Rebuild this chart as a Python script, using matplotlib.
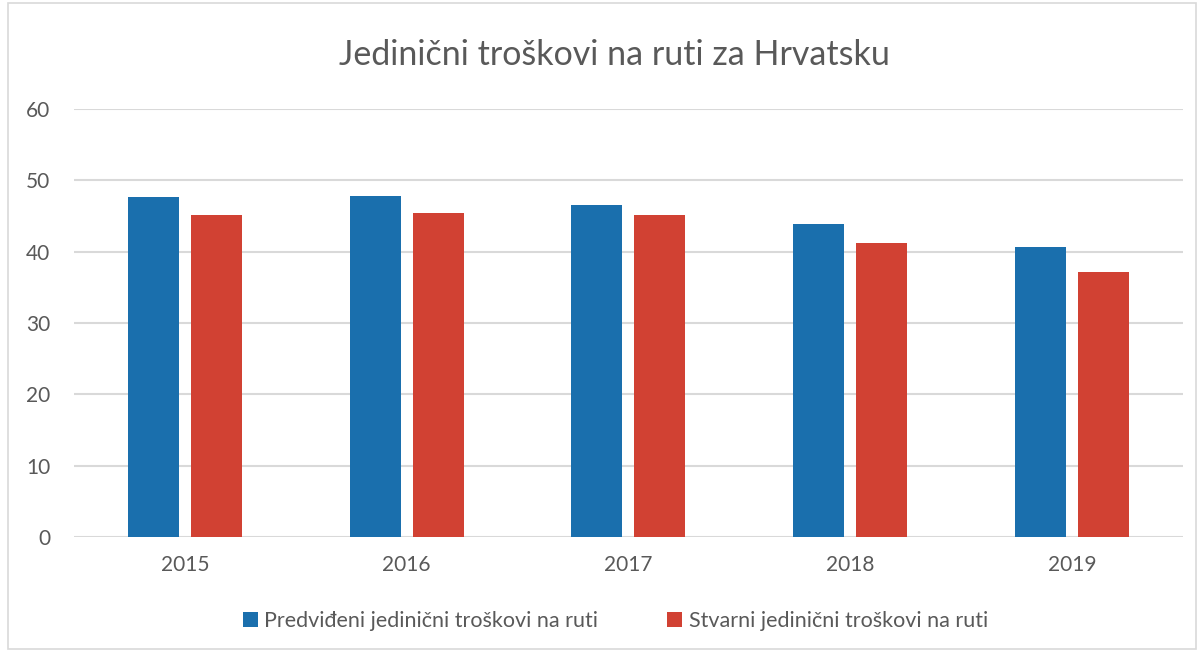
import matplotlib
matplotlib.use("Agg")
import matplotlib.pyplot as plt
import numpy as np
from matplotlib.patches import Rectangle

years = ["2015", "2016", "2017", "2018", "2019"]
predvideni = [47.6, 47.8, 46.6, 43.9, 40.7]  # planned unit costs
stvarni = [45.1, 45.4, 45.1, 41.2, 37.1]     # actual unit costs

blue = "#1a6fad"
red = "#d14133"
grey_text = "#595959"

plt.rcParams['font.family'] = ['Lato', 'DejaVu Sans']

fig = plt.figure(figsize=(12.02, 6.52), dpi=100)
ax = fig.add_axes([0.0616, 0.1764, 0.9224, 0.6564])

x = np.arange(len(years))
w = 0.23
ax.bar(x - 0.142, predvideni, w, color=blue, label="Predviđeni jedinični troškovi na ruti", zorder=3)
ax.bar(x + 0.142, stvarni, w, color=red, label="Stvarni jedinični troškovi na ruti", zorder=3)

ax.set_xlim(-0.5, len(years) - 0.5)
ax.set_ylim(0, 60)
ax.set_yticks(range(0, 61, 10))
ax.set_xticks(x)
ax.set_xticklabels(years)
ax.grid(axis="y", color="#d9d9d9", linewidth=1.5, zorder=0)
for s in ax.spines.values():
    s.set_visible(False)
ax.tick_params(length=0, colors=grey_text, labelsize=15)
ax.tick_params(axis="y", pad=17)
ax.tick_params(axis="x", pad=13)

fig.text(0.511, 0.915, "Jedinični troškovi na ruti za Hrvatsku", ha="center", va="center",
         fontsize=24.5, color=grey_text)

fig.legend(loc="center", bbox_to_anchor=(0.512, 0.047), ncol=2, frameon=False,
           fontsize=15.5, handlelength=0.7, handleheight=0.7, handletextpad=0.3,
           columnspacing=3.2, labelcolor=grey_text)

# outer chart border
fig.patches.append(Rectangle((0.007, 0.004), 0.988, 0.992, transform=fig.transFigure,
                             fill=False, edgecolor="#d9d9d9", linewidth=1.2))

fig.savefig("out.png", dpi=100)
